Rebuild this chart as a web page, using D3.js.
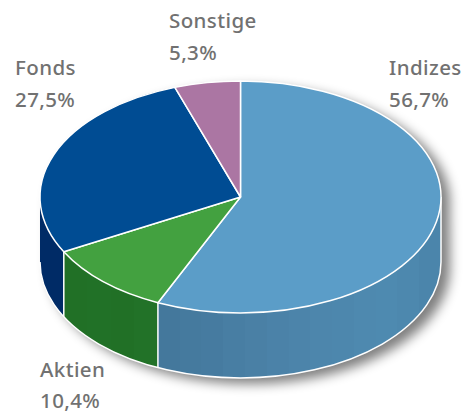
<!DOCTYPE html>
<html><head><meta charset="utf-8">
<script src="https://cdn.jsdelivr.net/npm/d3@7"></script>
<style>html,body{margin:0;padding:0;background:#fff}svg{display:block}text{font-family:"Noto Sans",sans-serif;font-size:20.5px;fill:#717171;font-weight:500;letter-spacing:.4px}</style>
</head><body><svg width="463" height="412"></svg>
<script>
const categories = ["Indizes","Aktien","Fonds","Sonstige"];
const values = [56.7,10.4,27.5,5.3];
const valueLabels = ["56,7%","10,4%","27,5%","5,3%"];
const topColors = ["#5b9dc8","#43a140","#004c93","#ab76a3"];
const sideColors = ["#4c86ad","#217026","#002b66","#8a5c84"];
const labelX = [389,40,15,169];
const labelY = [75,377,75,28];
const valueY = [107,408,107,60];
const wallShades0 = ["#44789c","#457a9e","#467ba0","#487ea3","#4a80a5","#4b82a8","#4c84aa","#4d86ac","#4d87ad","#4e89af","#4e8ab0","#4d88ae","#4b85ab"];
const wallShades1 = ["#217026","#217127","#217026","#227228"];

const cx=240.5,cy=197,rx=200.5,ry=116,depth=65;
const svg=d3.select("svg");
const defs=svg.append("defs");
const f=defs.append("filter").attr("id","sh").attr("x","-10%").attr("y","-10%").attr("width","125%").attr("height","130%");
f.append("feGaussianBlur").attr("stdDeviation",6);

const pie=d3.pie().sort(null).value(d=>d)(values);
const arcs=pie.map((d,i)=>({...d,i}));
const arc=d3.arc().innerRadius(0).outerRadius(rx);
const pt=(a,dy=0)=>[cx+rx*Math.sin(a),cy-ry*Math.cos(a)+dy];
function wall(a0,a1){
 const p0=pt(a0),p1=pt(a1),q0=pt(a0,depth),q1=pt(a1,depth);
 return `M${p0}A${rx},${ry} 0 0 1 ${p1}L${q1}A${rx},${ry} 0 0 0 ${q0}Z`;
}
const lo=Math.PI/2,hi=Math.PI*1.5;
const vis=arcs.filter(d=>d.endAngle>lo&&d.startAngle<hi).map(d=>({...d,a0:Math.max(d.startAngle,lo),a1:Math.min(d.endAngle,hi)}));

function bands(id,shades,a0,a1){
 const x0=pt(a0)[0],x1=pt(a1)[0];
 const g=defs.append("linearGradient").attr("id",id).attr("gradientUnits","userSpaceOnUse")
   .attr("x1",Math.min(x0,x1)).attr("x2",Math.max(x0,x1)).attr("y1",0).attr("y2",0);
 shades.forEach((c,k)=>{
  g.append("stop").attr("offset",k/shades.length).attr("stop-color",c);
  g.append("stop").attr("offset",(k+1)/shades.length).attr("stop-color",c);
 });
}
bands("wall0",wallShades0,vis[0].a0,vis[0].a1);
bands("wall1",wallShades1,vis[1].a0,vis[1].a1);

const shadow=svg.append("g").attr("filter","url(#sh)").attr("transform","translate(9,6)").attr("fill","#000").attr("opacity",0.5);
shadow.append("path").attr("d",wall(lo,hi));
shadow.append("ellipse").attr("cx",cx).attr("cy",cy).attr("rx",rx).attr("ry",ry);

svg.append("g").selectAll("path").data(vis).join("path")
 .attr("d",d=>wall(d.a0,d.a1))
 .attr("fill",d=>d.i<2?`url(#wall${d.i})`:sideColors[d.i]);

const edge=svg.append("g").attr("fill","none").attr("stroke","#fff").attr("stroke-width",1.5);
edge.append("path").attr("d",()=>`M${pt(lo)}L${pt(lo,depth)}A${rx},${ry} 0 0 1 ${pt(hi,depth)}`);
vis.slice(0,-1).forEach(d=>edge.append("path").attr("d",`M${pt(d.a1)}L${pt(d.a1,depth)}`));

svg.append("g").attr("transform",`translate(${cx},${cy}) scale(1,${ry/rx})`)
 .selectAll("path").data(arcs).join("path")
 .attr("d",arc)
 .attr("fill",d=>topColors[d.i])
 .attr("stroke","#fff").attr("stroke-width",1.5)
 .attr("stroke-linejoin","round")
 .attr("vector-effect","non-scaling-stroke");

const lab=svg.append("g");
categories.forEach((c,i)=>{
 lab.append("text").attr("x",labelX[i]).attr("y",labelY[i]).text(c);
 lab.append("text").attr("x",labelX[i]).attr("y",valueY[i]).text(valueLabels[i]);
});
</script></body></html>
